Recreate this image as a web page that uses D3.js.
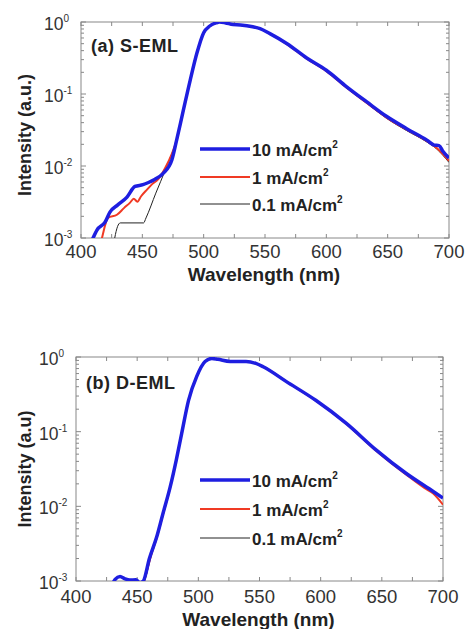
<!DOCTYPE html>
<html>
<head>
<meta charset="utf-8">
<script src="https://cdn.jsdelivr.net/npm/d3@7"></script>
<style>
  body { margin: 0; background: #fff; }
  text { font-family: "Liberation Sans", Arial, sans-serif; }
</style>
</head>
<body>
<div class="sandbox"></div>
<script>
// wavelength (nm) / intensity (a.u.) pairs
var xTicks = [400, 450, 500, 550, 600, 650, 700];
var yTicks = [1e-3, 1e-2, 1e-1, 1];
var series = ["10 mA/cm", "1 mA/cm", "0.1 mA/cm"];

var sBlue = [[405, 7.5e-4], [409.8, 1.0e-3], [413, 1.29e-3], [419.6, 1.66e-3], [423.6, 2.29e-3], [430, 2.88e-3],
  [437.5, 3.7e-3], [444, 5.2e-3], [450.5, 5.5e-3], [455, 5.9e-3], [460, 6.5e-3], [467, 7.9e-3], [474, 1.2e-2],
  [478, 2.3e-2], [483, 5.5e-2], [489, 0.155], [494.5, 0.37], [500, 0.71], [505, 0.88], [510, 0.97], [513, 1.0],
  [518, 0.97], [524, 0.92], [530, 0.91], [540, 0.86], [546, 0.81], [554, 0.69], [568, 0.50], [584, 0.316],
  [600, 0.214], [616.6, 0.126], [633, 0.0776], [649, 0.049], [665.5, 0.033], [682, 0.0229], [688, 0.0195],
  [692, 0.0192], [695, 0.016], [700, 0.0129]];
var sRed = [[414, 6e-4], [417.1, 1.0e-3], [422, 1.9e-3], [429.3, 2.1e-3], [435, 2.6e-3], [440, 3.1e-3],
  [443, 3.5e-3], [446, 3.2e-3], [449, 3.8e-3], [453.8, 4.7e-3], [458, 5.6e-3], [462.8, 6.5e-3], [468.5, 9.3e-3],
  [474.2, 1.5e-2], [478, 2.3e-2], [483, 5.5e-2], [489, 0.155], [494.5, 0.37], [500, 0.71], [505, 0.88],
  [510, 0.97], [513, 1.0], [518, 0.97], [524, 0.92], [530, 0.91], [540, 0.86], [546, 0.81], [554, 0.69],
  [568, 0.49], [584, 0.31], [600, 0.208], [616.6, 0.122], [633, 0.075], [649, 0.047], [665.5, 0.032],
  [682, 0.0222], [690, 0.0178], [700, 0.0118]];
var sBlack = [[426, 6e-4], [427.5, 1.0e-3], [432, 1.62e-3], [451, 1.62e-3], [453, 1.9e-3], [461, 4.2e-3],
  [469, 9.0e-3], [471, 1.1e-2], [474.2, 1.5e-2],
  [478, 2.3e-2], [483, 5.5e-2], [489, 0.155], [494.5, 0.37], [500, 0.71], [505, 0.88], [510, 0.97], [513, 1.0],
  [518, 0.97], [524, 0.92], [530, 0.91], [540, 0.86], [546, 0.81], [554, 0.69], [568, 0.49], [584, 0.31],
  [600, 0.207], [616.6, 0.121], [633, 0.074], [649, 0.046], [665.5, 0.031], [682, 0.0215], [690, 0.0172],
  [700, 0.0112]];

var dBlue = [[428, 8e-4], [432, 1.05e-3], [436, 1.15e-3], [440, 1.07e-3], [444, 1.03e-3], [449, 1.04e-3],
  [452, 9.5e-4], [455, 1.0e-3], [460, 2.0e-3], [466, 3.9e-3], [471, 7.9e-3], [477, 1.82e-2], [482, 4.2e-2],
  [486.4, 9.5e-2], [492, 0.263], [498.7, 0.55], [505.5, 0.87], [511, 0.955], [516, 0.93], [526, 0.87],
  [539, 0.87], [547, 0.82], [553, 0.74], [572, 0.468], [596, 0.263], [621, 0.129], [645, 0.0575],
  [670, 0.0275], [692, 0.0158], [700, 0.0129]];
var dRed = [[453, 8e-4], [456, 1.05e-3], [461, 2.1e-3], [466, 3.8e-3], [471, 7.7e-3], [477, 1.8e-2],
  [482, 4.2e-2], [486.4, 9.5e-2], [492, 0.263], [498.7, 0.55], [505.5, 0.87], [511, 0.955], [516, 0.93],
  [526, 0.87], [539, 0.87], [547, 0.82], [553, 0.74], [572, 0.468], [596, 0.26], [621, 0.127], [645, 0.056],
  [670, 0.0265], [685, 0.0175], [692, 0.0148], [700, 0.0105]];
var dBlack = [[453, 8e-4], [456, 1.0e-3], [461, 2.05e-3], [466, 3.8e-3], [471, 7.7e-3], [477, 1.8e-2],
  [482, 4.2e-2], [486.4, 9.5e-2], [492, 0.263], [498.7, 0.55], [505.5, 0.87], [511, 0.955], [516, 0.93],
  [526, 0.87], [539, 0.87], [547, 0.82], [553, 0.74], [572, 0.468], [596, 0.26], [621, 0.127], [645, 0.056],
  [670, 0.0265], [692, 0.0149], [700, 0.0106]];

var colors = ["#1e1ee0", "#f03a24", "#222"];
var widths = [3.5, 2, 1];

var W = 466, H = 629;
var svg = d3.select(".sandbox").append("svg").attr("width", W).attr("height", H);

var draw = function(p) {
  var x = d3.scaleLinear().domain([400, 700]).range([p.left, p.right]);
  var y = d3.scaleLog().domain([1e-3, 1]).range([p.bottom, p.top]);
  var g = svg.append("g");

  g.append("clipPath").attr("id", "clip" + p.id)
    .append("rect").attr("x", p.left).attr("y", p.top)
    .attr("width", p.right - p.left).attr("height", p.bottom - p.top);

  // ticks, inward on all four sides
  var xt = d3.range(400, 701, 25);
  xt.forEach(function(v) {
    g.append("line").attr("x1", x(v)).attr("x2", x(v)).attr("y1", p.bottom).attr("y2", p.bottom - 4).attr("stroke", "#888");
    g.append("line").attr("x1", x(v)).attr("x2", x(v)).attr("y1", p.top).attr("y2", p.top + 4).attr("stroke", "#888");
  });
  yTicks.forEach(function(t, i) {
    for (var k = 1; k < 10; k++) {
      var v = t * k;
      if (v > 1) break;
      var len = k == 1 ? 5 : 3;
      g.append("line").attr("x1", p.left).attr("x2", p.left + len).attr("y1", y(v)).attr("y2", y(v)).attr("stroke", "#888");
      g.append("line").attr("x1", p.right).attr("x2", p.right - len).attr("y1", y(v)).attr("y2", y(v)).attr("stroke", "#888");
    }
  });

  g.append("rect").attr("x", p.left).attr("y", p.top)
    .attr("width", p.right - p.left).attr("height", p.bottom - p.top)
    .attr("fill", "none").attr("stroke", "#888");

  // tick labels
  g.selectAll(".xl").data(xTicks).enter().append("text")
    .attr("x", d => x(d)).attr("y", p.bottom + p.xlab)
    .attr("text-anchor", "middle").attr("font-size", 18.5).attr("fill", "#333")
    .text(d => d);
  yTicks.forEach(function(t) {
    var tx = g.append("text").attr("x", p.left - 37).attr("y", y(t) + 8)
      .attr("font-size", 17.5).attr("fill", "#333");
    tx.append("tspan").text("10");
    tx.append("tspan").attr("dy", -8).attr("font-size", 10).text(Math.round(Math.log10(t)));
  });

  // axis titles
  g.append("text").attr("x", (p.left + p.right) / 2 - 1).attr("y", p.bottom + p.xtitle)
    .attr("text-anchor", "middle").attr("font-size", 19).attr("font-weight", "bold").attr("fill", "#222")
    .text("Wavelength (nm)");
  g.append("text").attr("transform", "translate(" + [31, (p.top + p.bottom) / 2 + p.ymid] + ") rotate(-90)")
    .attr("text-anchor", "middle").attr("font-size", 18).attr("font-weight", "bold").attr("fill", "#222")
    .text(p.ytitle);
  g.append("text").attr("x", p.left + 10).attr("y", p.top + p.labY)
    .attr("font-size", 18).attr("font-weight", "bold").attr("letter-spacing", 0.5).attr("fill", "#222").text(p.label);

  // curves
  var line = d3.line().curve(d3.curveMonotoneX).x(d => x(d[0])).y(d => y(d[1]));
  var lines = g.append("g").attr("clip-path", "url(#clip" + p.id + ")");
  [2, 1, 0].forEach(function(i) {
    lines.append("path").datum(p.data[i]).attr("d", line)
      .attr("fill", "none").attr("stroke", colors[i]).attr("stroke-width", widths[i])
      .attr("stroke-linejoin", "round");
  });

  // legend
  series.forEach(function(s, i) {
    var ly = p.legY[i];
    g.append("line").attr("x1", 200).attr("x2", 250).attr("y1", ly).attr("y2", ly)
      .attr("stroke", colors[i]).attr("stroke-width", widths[i]);
    var tx = g.append("text").attr("x", 252).attr("y", ly + 7)
      .attr("font-size", 17).attr("font-weight", "bold").attr("fill", "#222");
    tx.append("tspan").text(s);
    tx.append("tspan").attr("dy", -8).attr("font-size", 10).text("2");
  });
};

draw({ id: "a", left: 81, right: 449, top: 22, bottom: 238, xlab: 20, xtitle: 43, labY: 30, ymid: 5,
  ytitle: "Intensity (a.u.)", label: "(a) S-EML", legY: [149, 177, 204], data: [sBlue, sRed, sBlack] });
draw({ id: "b", left: 76, right: 443, top: 357, bottom: 581, xlab: 22, xtitle: 45, labY: 32, ymid: 0,
  ytitle: "Intensity (a.u)", label: "(b) D-EML", legY: [480, 509, 538], data: [dBlue, dRed, dBlack] });
</script>
</body>
</html>
